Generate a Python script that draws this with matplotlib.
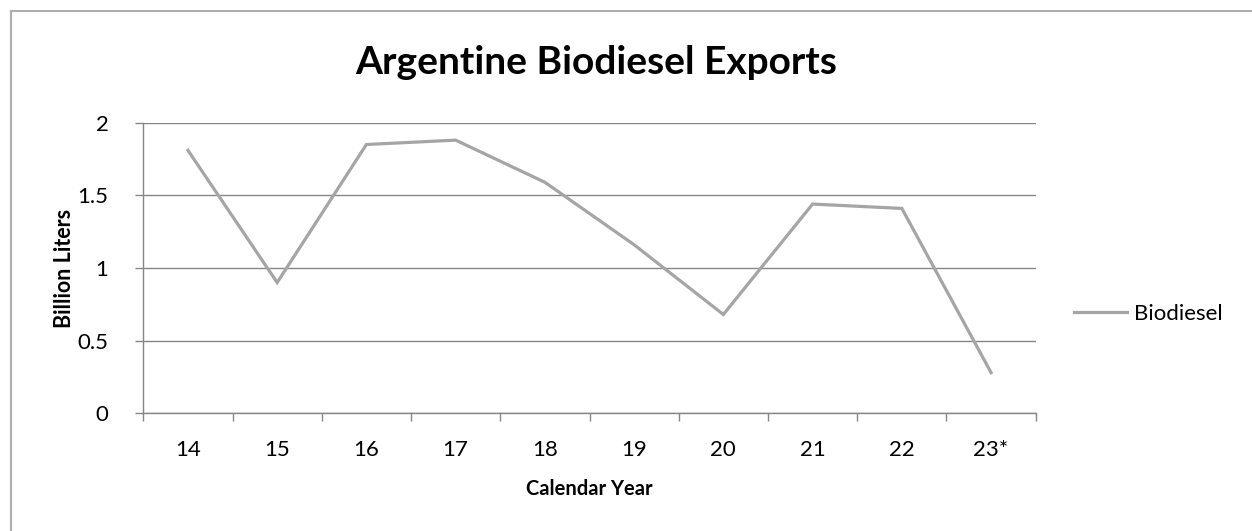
import matplotlib.pyplot as plt
from matplotlib.lines import Line2D
import numpy as np

years = ["14", "15", "16", "17", "18", "19", "20", "21", "22", "23*"]
biodiesel = [1.81, 0.90, 1.85, 1.88, 1.59, 1.16, 0.68, 1.44, 1.41, 0.28]

LINE_GRAY = "#A5A5A5"
AXIS_GRAY = "#868686"
FONT = "Lato"

W, H = 1252, 531
fig = plt.figure(figsize=(W / 100, H / 100), dpi=100)
ax = fig.add_axes([143.3 / W, 1 - 413.3 / H, (1035.7 - 143.3) / W, (413.3 - 122.7) / H])

x = np.arange(len(years))
ax.plot(x, biodiesel, color=LINE_GRAY, linewidth=2.3, solid_joinstyle="miter",
        label="Biodiesel", clip_on=False)

ax.set_xlim(-0.5, len(years) - 0.5)
ax.set_ylim(0, 2)
ax.set_yticks([0, 0.5, 1, 1.5, 2])
ax.set_yticklabels(["0", "0.5", "1", "1.5", "2"])
ax.yaxis.grid(True, color=AXIS_GRAY, linewidth=1.0)
ax.set_axisbelow(True)

# category labels at centres, tick marks on category boundaries
ax.set_xticks(x)
ax.set_xticklabels(years)
ax.set_xticks(np.arange(-0.5, len(years)), minor=True)
ax.tick_params(axis="x", which="major", length=0, pad=19)
ax.tick_params(axis="x", which="minor", length=6, width=1.0, color=AXIS_GRAY)
ax.tick_params(axis="y", length=6, width=1.0, color=AXIS_GRAY, pad=19)

for lab in ax.get_xticklabels() + ax.get_yticklabels():
    lab.set_fontfamily(FONT)
    lab.set_fontsize(16)

for side in ("top", "right"):
    ax.spines[side].set_visible(False)
for side in ("left", "bottom"):
    ax.spines[side].set_color(AXIS_GRAY)
    ax.spines[side].set_linewidth(1.0)

ax.set_ylabel("Billion Liters", fontfamily=FONT, fontsize=15.5, fontweight="bold", labelpad=2)
ax.set_xlabel("Calendar Year", fontfamily=FONT, fontsize=14.5, fontweight="bold", labelpad=14)

fig.text(596 / W, 1 - 63 / H, "Argentine Biodiesel Exports", fontfamily=FONT,
         fontsize=28, fontweight="bold", ha="center", va="center")

fig.legend(loc="center left", bbox_to_anchor=(1074 / W, 1 - 314 / H), frameon=False,
           borderpad=0, borderaxespad=0, handlelength=2.4, handletextpad=0.3,
           prop={"family": FONT, "size": 16})

# chart area frame (top and left edges)
fig.add_artist(Line2D([11 / W, 1], [1 - 10.5 / H, 1 - 10.5 / H], color="#A0A0A0",
                      linewidth=1.2, transform=fig.transFigure))
fig.add_artist(Line2D([11 / W, 11 / W], [0, 1 - 10.5 / H], color="#B0B0B0",
                      linewidth=1.6, transform=fig.transFigure))

fig.savefig("out.png", dpi=100)
